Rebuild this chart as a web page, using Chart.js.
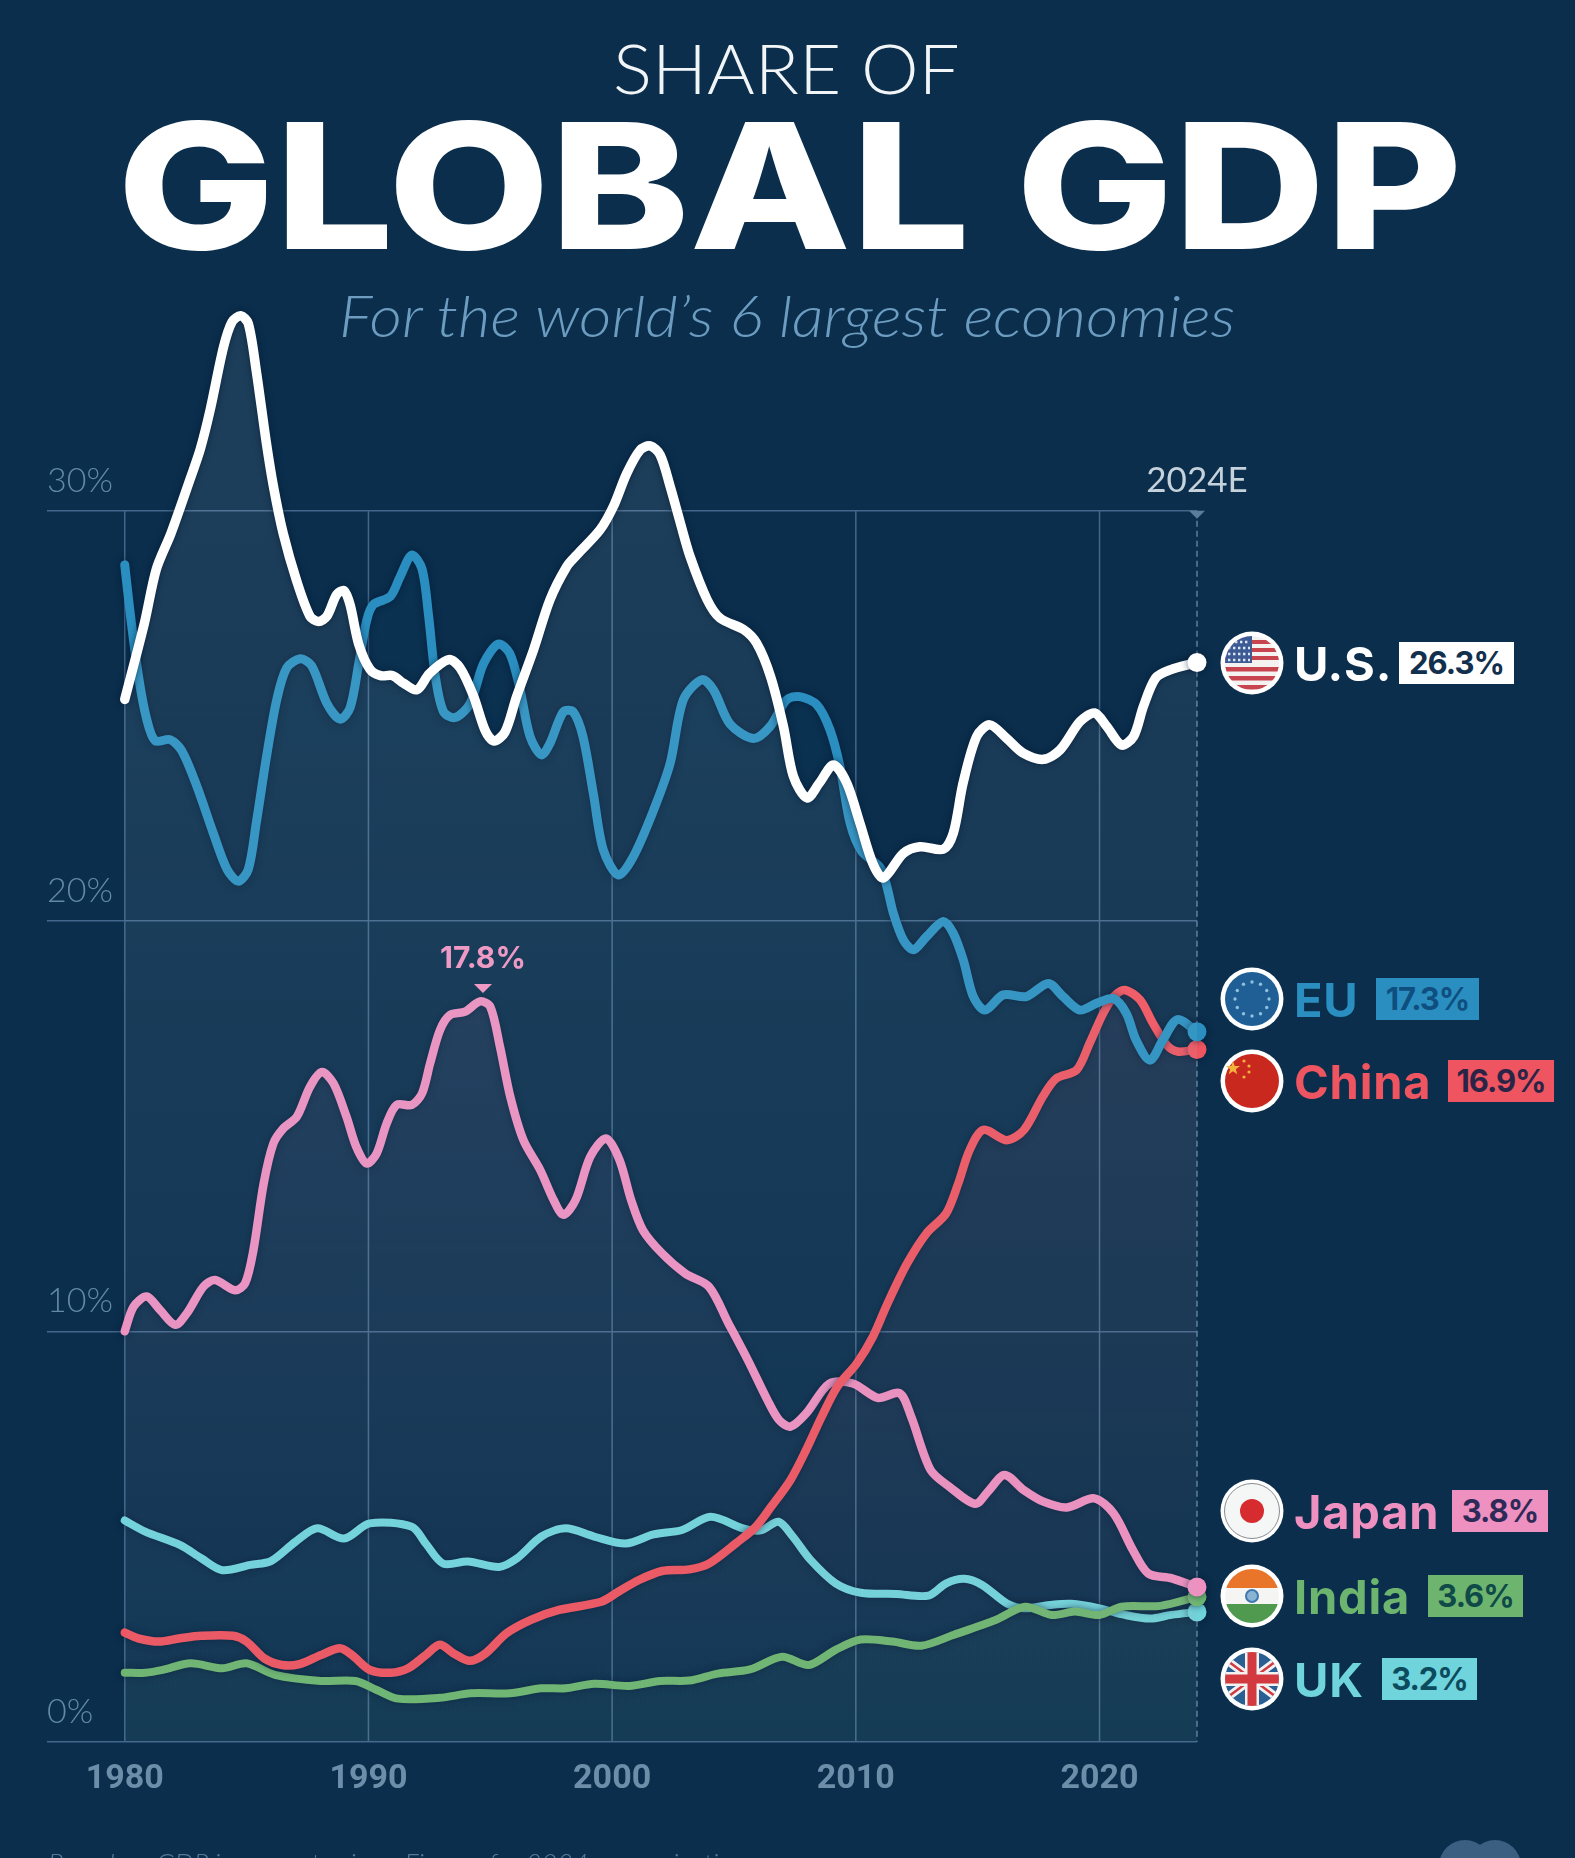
<!DOCTYPE html>
<html>
<head>
<meta charset="utf-8">
<title>Share of Global GDP</title>
<script src="https://cdn.jsdelivr.net/npm/chart.js@4"></script>
<style>
  html, body { margin: 0; padding: 0; width: 1575px; height: 1858px; overflow: hidden; background: #0a2e4c; }
  #gdpChart { position: absolute; left: 0; top: 0; }
  .txt { position: absolute; white-space: nowrap; transform-origin: left center; font-family: Inter, sans-serif; line-height: 1; }
  .flag { position: absolute; left: 1220px; width: 64px; height: 64px; }
  .name { left: 1294px; font-size: 47px; font-weight: 700; letter-spacing: 0.8px; transform: translateY(-50%); }
  .badge { position: absolute; height: 42px; line-height: 42px; text-align: center; font-family: Inter, sans-serif; font-size: 31px; font-weight: 700; letter-spacing: -1px; }
</style>
</head>
<body>
<canvas id="gdpChart" width="1575" height="1858"></canvas>

<div class="txt" id="t1" style="left:613px;top:34px;font-size:68px;font-weight:300;color:#f2f5f7;font-family:Lato,sans-serif">SHARE OF</div>
<div class="txt" id="t2" style="left:117px;top:98px;font-size:175px;font-weight:800;color:#fff">GLOBAL GDP</div>
<div class="txt" id="t3" style="left:339px;top:286px;font-size:58px;font-weight:300;font-style:italic;color:#6c9cc0;font-family:Lato,sans-serif">For the world’s 6 largest economies</div>
<div class="txt" id="t4" style="left:48px;top:1849px;font-size:28px;font-style:italic;font-weight:300;color:#55799a;font-family:Lato,sans-serif">Based on GDP in current prices. Figures for 2024 are projections.</div>

<!-- flags -->
<svg class="flag" style="top:631px" viewBox="-32 -32 64 64">
  <defs><clipPath id="c"><circle r="27"/></clipPath></defs>
  <circle r="31.5" fill="#fff"/>
  <g clip-path="url(#c)">
    <rect x="-27" y="-27" width="54" height="54" fill="#f4f1f1"/>
    <rect x="-27" y="-23" width="54" height="4" fill="#c8454f"/>
    <rect x="-27" y="-15" width="54" height="4" fill="#c8454f"/>
    <rect x="-27" y="-7" width="54" height="4" fill="#c8454f"/>
    <rect x="-27" y="4" width="54" height="4.5" fill="#c8454f"/>
    <rect x="-27" y="13" width="54" height="4.5" fill="#c8454f"/>
    <rect x="-27" y="22" width="54" height="4.5" fill="#c8454f"/>
    <rect x="-27" y="-27" width="27" height="27" fill="#3c5a94"/>
    <path d="M-22-21h20M-24-15h22M-24-9h22M-24-3h22" stroke="#dfe6f2" stroke-width="2.4" stroke-dasharray="2.4 2.6"/>
  </g>
</svg>
<svg class="flag" style="top:967px" viewBox="-32 -32 64 64">
  <circle r="31.5" fill="#fff"/>
  <circle r="27" fill="#1f5f96"/>
  <g fill="#8fc0dc" id="euStars"></g>
</svg>
<svg class="flag" style="top:1049px" viewBox="-32 -32 64 64">
  <circle r="31.5" fill="#fff"/>
  <circle r="27" fill="#c9281f"/>
  <polygon points="-19,-20 -17.3,-15 -12,-15 -16.2,-11.8 -14.7,-6.8 -19,-9.8 -23.3,-6.8 -21.8,-11.8 -26,-15 -20.7,-15" fill="#f2b33d"/>
  <g fill="#f2b33d"><circle cx="-8" cy="-20" r="1.6"/><circle cx="-3" cy="-15" r="1.6"/><circle cx="-3" cy="-9" r="1.6"/><circle cx="-8" cy="-4" r="1.6"/></g>
</svg>
<svg class="flag" style="top:1479px" viewBox="-32 -32 64 64">
  <circle r="31.5" fill="#fff"/>
  <circle r="27.5" fill="#f5f6f6" stroke="#6a7077" stroke-width="0.8"/>
  <circle r="12" fill="#d62c2f"/>
</svg>
<svg class="flag" style="top:1564px" viewBox="-32 -32 64 64">
  <defs><clipPath id="c2"><circle r="27"/></clipPath></defs>
  <circle r="31.5" fill="#fff"/>
  <g clip-path="url(#c2)">
    <rect x="-27" y="-27" width="54" height="19" fill="#e9752b"/>
    <rect x="-27" y="-8" width="54" height="16" fill="#f5f5f3"/>
    <rect x="-27" y="8" width="54" height="19" fill="#4f9a4f"/>
  </g>
  <circle r="6" fill="#8ab2d2" stroke="#3f78ae" stroke-width="2"/>
</svg>
<svg class="flag" style="top:1647px" viewBox="-32 -32 64 64">
  <defs><clipPath id="c3"><circle r="27"/></clipPath></defs>
  <circle r="31.5" fill="#fff"/>
  <g clip-path="url(#c3)">
    <rect x="-27" y="-27" width="54" height="54" fill="#2a5f94"/>
    <path d="M-27-20L27 20M-27 20L27-20" stroke="#f2f2f2" stroke-width="8"/>
    <path d="M-27-20L27 20M-27 20L27-20" stroke="#d23a3f" stroke-width="2.6"/>
    <path d="M0-27V27M-27 0H27" stroke="#f2f2f2" stroke-width="14"/>
    <path d="M0-27V27M-27 0H27" stroke="#d23a3f" stroke-width="9"/>
  </g>
</svg>

<!-- series labels -->
<div class="txt name" style="top:663px;color:#fff">U.S.</div>
<div class="badge" style="left:1399px;top:642px;width:115px;background:#fff;color:#12304d">26.3%</div>
<div class="txt name" style="top:999px;color:#2a8fc0">EU</div>
<div class="badge" style="left:1376px;top:978px;width:103px;background:#2a8fc0;color:#0f4f80">17.3%</div>
<div class="txt name" style="top:1081px;color:#ee5560">China</div>
<div class="badge" style="left:1448px;top:1060px;width:106px;background:#ee5560;color:#2a2547">16.9%</div>
<div class="txt name" style="top:1511px;color:#ee90c0">Japan</div>
<div class="badge" style="left:1452px;top:1490px;width:96px;background:#ee90c0;color:#2e2a58">3.8%</div>
<div class="txt name" style="top:1596px;color:#6db56f">India</div>
<div class="badge" style="left:1428px;top:1575px;width:95px;background:#6db56f;color:#0f4a48">3.6%</div>
<div class="txt name" style="top:1679px;color:#6fd4db">UK</div>
<div class="badge" style="left:1382px;top:1658px;width:95px;background:#6fd4db;color:#0c4a5e">3.2%</div>

<script>
// series at the turning points of each curve
var usYears = [1980, 1980.8, 1981.3, 1981.9, 1982.7, 1983.1, 1983.5, 1984.05, 1984.4, 1984.76, 1985.07, 1985.4, 1985.8, 1986.1, 1986.5, 1987.05, 1987.6, 1987.95, 1988.3, 1988.7, 1989, 1989.25, 1989.6, 1990.07, 1990.5, 1991, 1991.45, 1992, 1992.5, 1993.3, 1993.76, 1994.3, 1994.8, 1995.15, 1995.6, 1996.08, 1996.77, 1997.45, 1998.14, 1998.55, 1999.5, 2000.05, 2000.6, 2001.15, 2001.56, 2001.97, 2002.38, 2002.8, 2003.2, 2003.9, 2004.43, 2005.4, 2005.93, 2006.5, 2007.03, 2007.44, 2008, 2008.5, 2009.08, 2009.63, 2010.17, 2010.7, 2011.13, 2011.95, 2012.63, 2013.59, 2014, 2014.4, 2014.96, 2015.5, 2016.19, 2016.87, 2017.7, 2018.38, 2019.2, 2019.8, 2020.3, 2020.9, 2021.4, 2021.8, 2022.3, 2022.9, 2024];
var usShare = [25.4, 27.24, 28.58, 29.45, 30.8, 31.5, 32.44, 33.98, 34.6, 34.75, 34.56, 33.4, 31.7, 30.6, 29.45, 28.3, 27.43, 27.3, 27.43, 27.96, 28.05, 27.7, 26.75, 26.13, 25.98, 25.98, 25.79, 25.64, 26.03, 26.37, 26.17, 25.5, 24.63, 24.39, 24.6, 25.47, 26.6, 27.83, 28.64, 28.92, 29.53, 30.1, 30.91, 31.48, 31.58, 31.36, 30.59, 29.7, 28.88, 27.83, 27.38, 27.1, 26.77, 25.96, 24.74, 23.52, 23.0, 23.36, 23.8, 23.36, 22.38, 21.4, 21.05, 21.65, 21.81, 21.75, 22.14, 23.36, 24.5, 24.78, 24.45, 24.09, 23.94, 24.17, 24.86, 25.07, 24.74, 24.29, 24.5, 25.23, 25.92, 26.12, 26.3];

var euYears = [1980, 1980.22, 1980.56, 1980.9, 1981.25, 1981.86, 1982.34, 1982.95, 1983.64, 1984.2, 1984.66, 1985.07, 1985.4, 1985.83, 1986.24, 1986.65, 1987.2, 1987.67, 1988.3, 1988.84, 1989.25, 1989.6, 1989.93, 1990.2, 1990.9, 1991.3, 1991.78, 1992.2, 1992.47, 1992.74, 1993.08, 1993.56, 1994.17, 1994.72, 1995.33, 1995.8, 1996.2, 1996.63, 1997.1, 1997.45, 1998, 1998.4, 1998.8, 1999.23, 1999.64, 2000.26, 2000.87, 2001.7, 2002.38, 2002.92, 2003.68, 2004.16, 2004.84, 2005.8, 2006.48, 2007.16, 2007.7, 2008.4, 2008.94, 2009.35, 2009.76, 2010.24, 2011, 2011.27, 2011.54, 2011.95, 2012.36, 2012.9, 2013.59, 2014, 2014.41, 2014.82, 2015.3, 2016.05, 2017, 2017.9, 2018.5, 2019.2, 2019.9, 2020.57, 2021.1, 2021.5, 2022.07, 2022.6, 2023.2, 2024];
var euShare = [28.68, 27.52, 25.98, 24.92, 24.39, 24.42, 24.15, 23.3, 22.13, 21.26, 20.97, 21.26, 22.4, 24.05, 25.4, 26.17, 26.39, 26.22, 25.3, 24.92, 25.2, 26.27, 27.33, 27.71, 27.91, 28.39, 28.92, 28.58, 27.43, 25.98, 25.1, 24.96, 25.3, 26.27, 26.75, 26.52, 25.7, 24.5, 24.05, 24.33, 25.1, 25.1, 24.5, 23.1, 21.73, 21.12, 21.57, 22.7, 23.84, 25.39, 25.88, 25.63, 24.8, 24.45, 24.74, 25.39, 25.47, 25.27, 24.66, 23.76, 22.4, 21.7, 21.3, 20.85, 20.19, 19.54, 19.3, 19.62, 19.99, 19.7, 19.05, 18.16, 17.83, 18.2, 18.16, 18.48, 18.16, 17.83, 18.0, 18.11, 17.75, 17.1, 16.61, 17.1, 17.6, 17.3];

var chinaYears = [1980, 1980.55, 1981.4, 1982.28, 1983.14, 1984.44, 1985, 1985.73, 1986.45, 1987.17, 1988.04, 1988.83, 1989.33, 1990.05, 1990.91, 1991.63, 1992.35, 1992.93, 1993.5, 1994.15, 1994.8, 1995.66, 1996.67, 1997.82, 1999.55, 2000.27, 2001.1, 2002.05, 2003.17, 2003.97, 2005.09, 2005.9, 2006.53, 2007.32, 2007.96, 2008.6, 2009.24, 2010.04, 2010.7, 2011.3, 2012.1, 2012.9, 2013.7, 2014.2, 2014.67, 2015.23, 2016.2, 2016.9, 2017.7, 2018.24, 2019.06, 2019.6, 2020.15, 2020.6, 2021.04, 2021.66, 2022.2, 2022.76, 2023.2, 2024];
var chinaShare = [2.66, 2.52, 2.44, 2.52, 2.58, 2.58, 2.44, 2.03, 1.87, 1.89, 2.11, 2.28, 2.11, 1.75, 1.68, 1.79, 2.11, 2.36, 2.15, 1.97, 2.15, 2.64, 2.97, 3.21, 3.41, 3.66, 3.94, 4.16, 4.2, 4.34, 4.84, 5.24, 5.73, 6.38, 7.11, 7.92, 8.65, 9.22, 9.87, 10.68, 11.65, 12.39, 12.87, 13.6, 14.42, 14.91, 14.66, 14.91, 15.75, 16.17, 16.37, 17.03, 17.75, 18.17, 18.32, 18.08, 17.5, 16.98, 16.82, 16.87];

var japanYears = [1980, 1980.36, 1980.9, 1981.45, 1982.07, 1982.55, 1983.23, 1983.7, 1984.53, 1984.94, 1985.28, 1985.7, 1986.1, 1986.5, 1987.06, 1987.6, 1988.09, 1988.57, 1989.1, 1989.5, 1989.93, 1990.34, 1990.75, 1991.16, 1991.78, 1992.2, 1992.53, 1992.94, 1993.35, 1993.97, 1994.58, 1995, 1995.4, 1995.82, 1996.36, 1997.05, 1997.6, 1998, 1998.5, 1999.1, 1999.75, 2000.3, 2000.78, 2001.26, 2002.05, 2003, 2003.97, 2004.77, 2005.57, 2006.37, 2006.85, 2007.32, 2007.96, 2008.92, 2009.88, 2010.9, 2011.8, 2012.27, 2013.07, 2013.87, 2014.9, 2015.47, 2016.1, 2016.9, 2017.7, 2018.66, 2019.78, 2020.58, 2021.37, 2022, 2022.97, 2024];
var japanShare = [10.0, 10.6, 10.85, 10.52, 10.16, 10.44, 11.09, 11.25, 11.0, 11.17, 11.98, 13.6, 14.58, 14.94, 15.23, 15.96, 16.32, 16.04, 15.23, 14.5, 14.09, 14.34, 15.07, 15.52, 15.52, 15.8, 16.53, 17.35, 17.71, 17.79, 18.04, 17.91, 16.93, 15.72, 14.66, 13.93, 13.2, 12.84, 13.2, 14.25, 14.7, 14.18, 13.2, 12.47, 11.9, 11.41, 11.09, 10.2, 9.3, 8.33, 7.84, 7.68, 8.0, 8.73, 8.73, 8.38, 8.49, 7.92, 6.62, 6.2, 5.8, 6.13, 6.5, 6.13, 5.85, 5.71, 5.93, 5.56, 4.67, 4.1, 3.98, 3.77];

var indiaYears = [1980, 1980.84, 1981.56, 1982.7, 1984, 1985, 1986.16, 1988.04, 1989.47, 1990.34, 1991.2, 1992.93, 1994.2, 1995.8, 1997.1, 1998.1, 1999.26, 2000.7, 2001.97, 2003.16, 2004.33, 2005.65, 2006.97, 2008.07, 2009.17, 2010.2, 2011.5, 2012.69, 2014, 2015.76, 2016.94, 2018.04, 2018.99, 2020, 2020.9, 2022.5, 2024];
var indiaShare = [1.68, 1.68, 1.75, 1.91, 1.79, 1.91, 1.63, 1.48, 1.48, 1.26, 1.05, 1.07, 1.18, 1.18, 1.3, 1.3, 1.41, 1.36, 1.48, 1.49, 1.66, 1.76, 2.07, 1.87, 2.24, 2.49, 2.44, 2.34, 2.6, 2.97, 3.29, 3.09, 3.17, 3.09, 3.29, 3.31, 3.53];

var ukYears = [1980, 1980.84, 1982.28, 1983.14, 1984, 1985.16, 1986, 1987, 1987.9, 1989, 1990.05, 1991.78, 1992.35, 1993.07, 1994.08, 1995.37, 1996.1, 1997.1, 1998.1, 1999.26, 2000.56, 2001.7, 2002.87, 2004.04, 2005.36, 2006.1, 2006.83, 2007.41, 2008.14, 2009.17, 2010.2, 2011.66, 2012.98, 2013.71, 2014.45, 2015.18, 2016.2, 2016.94, 2017.96, 2018.84, 2020, 2021.04, 2022.07, 2022.95, 2024];
var ukShare = [5.39, 5.12, 4.79, 4.47, 4.18, 4.31, 4.4, 4.87, 5.2, 4.95, 5.32, 5.24, 4.83, 4.34, 4.39, 4.26, 4.47, 5.0, 5.2, 5.0, 4.83, 5.05, 5.16, 5.48, 5.2, 5.15, 5.36, 5.0, 4.43, 3.86, 3.63, 3.6, 3.56, 3.86, 3.97, 3.82, 3.37, 3.25, 3.33, 3.36, 3.25, 3.09, 3.0, 3.09, 3.16];

var xTickYears = [1980, 1990, 2000, 2010, 2020];
var yTickValues = [0, 10, 20, 30];
var japanPeakYear = 1994.7;
var japanPeakLabel = "17.8%";
var lastYearLabel = "2024E";

function toPoints(years, values) {
    return years.map(function (year, i) {
        return { x: year, y: values[i] };
    });
}

// area under each line fades out towards the axis
function areaFill(rgb, topAlpha, bottomAlpha) {
    return function (context) {
        var area = context.chart.chartArea;
        if (!area) return "transparent";
        var y = context.chart.scales.y;
        var grad = context.chart.ctx.createLinearGradient(0, y.getPixelForValue(30), 0, area.bottom);
        grad.addColorStop(0, "rgba(" + rgb + "," + topAlpha + ")");
        grad.addColorStop(1, "rgba(" + rgb + "," + bottomAlpha + ")");
        return grad;
    };
}

function makeSeries(label, years, values, color, rgb, width, topAlpha, bottomAlpha) {
    var lastIndex = years.length - 1;
    return {
        label: label,
        data: toPoints(years, values),
        borderColor: color,
        borderWidth: width,
        backgroundColor: areaFill(rgb, topAlpha, bottomAlpha),
        fill: "origin",
        tension: 0.3,
        clip: false,
        borderCapStyle: "round",
        borderJoinStyle: "round",
        pointBackgroundColor: color,
        pointBorderWidth: 0,
        pointRadius: function (ctx) {
            return ctx.dataIndex === lastIndex ? 9.5 : 0;
        },
    };
}

// gridlines stop at 30% though the US line runs above it, plus the small callouts
var annotationsPlugin = {
    id: "annotations",
    beforeDatasetsDraw: function (chart) {
        var ctx = chart.ctx;
        var x = chart.scales.x;
        var y = chart.scales.y;
        var top = y.getPixelForValue(30);
        var bottom = y.getPixelForValue(0);
        ctx.save();
        ctx.strokeStyle = "#43678a";
        ctx.lineWidth = 1.5;
        xTickYears.forEach(function (year) {
            var px = x.getPixelForValue(year);
            ctx.beginPath();
            ctx.moveTo(px, top);
            ctx.lineTo(px, bottom);
            ctx.stroke();
        });
        var endX = x.getPixelForValue(2024);
        ctx.setLineDash([6, 4]);
        ctx.strokeStyle = "#5d7e9b";
        ctx.beginPath();
        ctx.moveTo(endX, top);
        ctx.lineTo(endX, bottom);
        ctx.stroke();
        ctx.restore();
    },
    beforeDatasetDraw: function (chart) {
        chart.ctx.save();
        chart.ctx.shadowColor = "rgba(4,22,48,0.6)";
        chart.ctx.shadowBlur = 7;
    },
    afterDatasetDraw: function (chart) {
        chart.ctx.restore();
    },
    afterDatasetsDraw: function (chart) {
        var ctx = chart.ctx;
        var x = chart.scales.x;
        var y = chart.scales.y;
        var endX = x.getPixelForValue(2024);
        var top = y.getPixelForValue(30);
        ctx.save();
        ctx.textAlign = "center";
        ctx.textBaseline = "middle";

        ctx.fillStyle = "#c5d2dc";
        ctx.font = "400 35px Lato, sans-serif";
        ctx.fillText(lastYearLabel, endX, top - 30);
        ctx.fillStyle = "#5d7e9b";
        triangle(ctx, endX, top, 8, 8);

        var peakX = x.getPixelForValue(japanPeakYear);
        var peakY = y.getPixelForValue(18);
        ctx.fillStyle = "#ef9ac5";
        ctx.font = "700 30px Inter, sans-serif";
        ctx.fillText(japanPeakLabel, peakX, peakY - 44);
        triangle(ctx, peakX, peakY - 19, 9, 9);

        // logo peeking in at the bottom edge
        ctx.fillStyle = "#3a5f80";
        ctx.beginPath();
        ctx.arc(1465, 1866, 26, 0, Math.PI * 2);
        ctx.arc(1495, 1866, 26, 0, Math.PI * 2);
        ctx.fill();
        ctx.restore();
    },
};

function triangle(ctx, cx, topY, halfWidth, height) {
    ctx.beginPath();
    ctx.moveTo(cx - halfWidth, topY);
    ctx.lineTo(cx + halfWidth, topY);
    ctx.lineTo(cx, topY + height);
    ctx.closePath();
    ctx.fill();
}

function fitWidth(id, width) {
    var el = document.getElementById(id);
    el.style.transform = "scaleX(" + width / el.offsetWidth + ")";
}

// EU flag stars
var stars = document.getElementById("euStars");
for (var i = 0; i < 12; i++) {
    var dot = document.createElementNS("http://www.w3.org/2000/svg", "circle");
    dot.setAttribute("cx", 17 * Math.cos((i * Math.PI) / 6));
    dot.setAttribute("cy", 17 * Math.sin((i * Math.PI) / 6));
    dot.setAttribute("r", 1.7);
    stars.appendChild(dot);
}

fitWidth("t1", 347);
fitWidth("t2", 1345);
fitWidth("t3", 896);
fitWidth("t4", 715);

new Chart(document.getElementById("gdpChart"), {
    type: "line",
    data: {
        datasets: [
            makeSeries("U.S.", usYears, usShare, "#ffffff", "255,255,255", 9.5, 0.08, 0.02),
            makeSeries("EU", euYears, euShare, "#2a8fc0", "42,143,192", 9, 0.04, 0.02),
            makeSeries("China", chinaYears, chinaShare, "#ee5560", "238,85,96", 8.5, 0.11, 0.0),
            makeSeries("Japan", japanYears, japanShare, "#ee90c0", "238,144,192", 8.5, 0.1, 0.0),
            makeSeries("India", indiaYears, indiaShare, "#6db56f", "109,181,111", 8, 0.06, 0.04),
            makeSeries("UK", ukYears, ukShare, "#6fd4db", "111,212,219", 8, 0.04, 0.02),
        ],
    },
    options: {
        responsive: false,
        animation: false,
        layout: { padding: { left: 47, right: 378, top: 285, bottom: 0 } },
        plugins: {
            legend: { display: false },
            tooltip: { enabled: false },
        },
        scales: {
            x: {
                type: "linear",
                min: 1976.81,
                max: 2024,
                afterBuildTicks: function (scale) {
                    scale.ticks = xTickYears.map(function (v) { return { value: v }; });
                },
                afterFit: function (scale) { scale.height = 116.3; },
                grid: { display: false },
                border: { display: false },
                ticks: {
                    autoSkip: false,
                    maxRotation: 0,
                    padding: 9,
                    color: "#6d8ea9",
                    font: { family: "Roboto, sans-serif", size: 34, weight: "700" },
                    callback: function (v) { return String(v); },
                },
            },
            y: {
                min: 0,
                max: 35.5,
                afterBuildTicks: function (scale) {
                    scale.ticks = yTickValues.map(function (v) { return { value: v }; });
                },
                afterFit: function (scale) { scale.width = 0; },
                grid: { color: "#43678a", lineWidth: 1.5, drawTicks: false },
                border: { display: false },
                ticks: {
                    mirror: true,
                    padding: 0,
                    labelOffset: -30,
                    color: "#628aa8",
                    font: { family: "Lato, sans-serif", size: 34, weight: "300" },
                    callback: function (v) { return v + "%"; },
                },
            },
        },
    },
    plugins: [annotationsPlugin],
});
</script>
</body>
</html>
